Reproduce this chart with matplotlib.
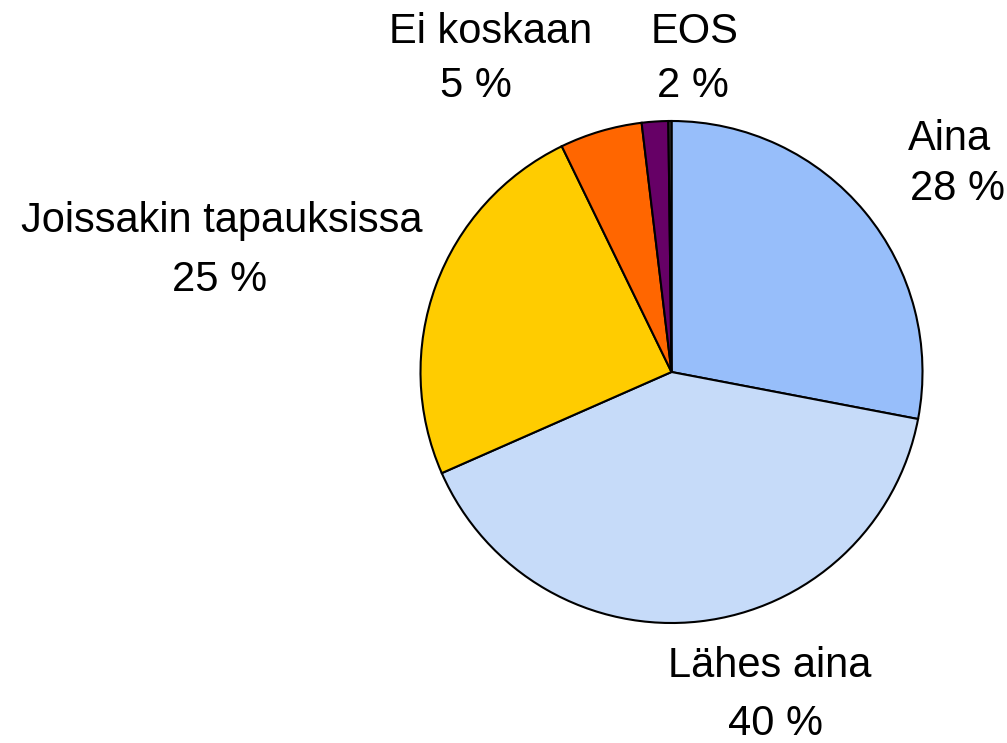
import matplotlib
matplotlib.use("Agg")
import matplotlib.pyplot as plt

categories = ["Aina", "Lähes aina", "Joissakin tapauksissa", "Ei koskaan", "EOS", ""]
values = [28.0, 40.4, 24.4, 5.3, 1.7, 0.2]
pct_labels = ["28 %", "40 %", "25 %", "5 %", "2 %", ""]
colors = ["#97BEFA", "#C6DBF9", "#FFCC00", "#FF6600", "#660066", "#404040"]

W, H = 1007, 743
fig = plt.figure(figsize=(W / 100, H / 100), dpi=100)
ax = fig.add_axes([0, 0, 1, 1])

# y axis is inverted (pixel-like coords), so start at -90 and go counterclockwise in data
ax.pie(values, colors=colors, startangle=-90, counterclock=True,
       center=(671.5, 372), radius=251,
       wedgeprops=dict(edgecolor="black", linewidth=1.5))
ax.set_xlim(0, W)
ax.set_ylim(H, 0)
ax.set_aspect("equal")
ax.axis("off")

# label positions (name line center x, baseline y; pct line center x, baseline y)
label_pos = [
    ((949, 150), (957, 200)),
    ((770, 677), (775, 735)),
    ((222, 232), (220, 291)),
    ((491, 43), (476, 97)),
    ((695, 43), (693, 97)),
]
font = dict(family=["Liberation Sans", "DejaVu Sans"], fontsize=30, color="black")
for i, ((nx, ny), (px, py)) in enumerate(label_pos):
    ax.text(nx, ny, categories[i], ha="center", va="baseline", **font)
    ax.text(px, py, pct_labels[i], ha="center", va="baseline", **font)

fig.savefig("out.png", dpi=100)
